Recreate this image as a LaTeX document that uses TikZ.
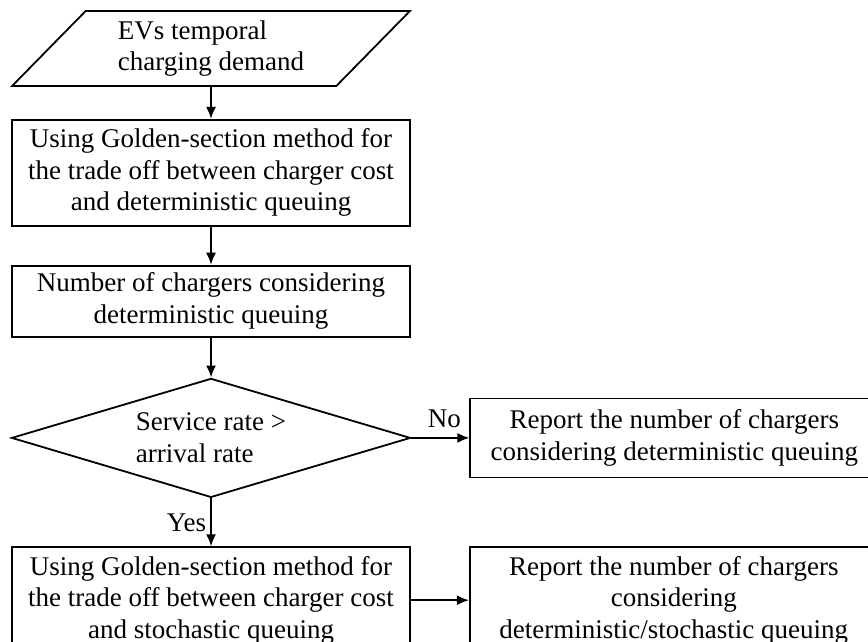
\documentclass[tikz,border=0pt]{standalone}
\usepackage{fontspec}
\setmainfont{Liberation Serif}
\usetikzlibrary{positioning,arrows.meta,shapes.geometric}
\tikzstyle{io} = [draw, trapezium, trapezium left angle=48, trapezium right angle=132,
    trapezium stretches=true, minimum width=398pt, minimum height=75pt, align=left,
    text depth=6pt]
\tikzstyle{block} = [draw, rectangle, minimum width=398pt, align=center, inner sep=0pt]
\tikzstyle{report} = [draw, rectangle, minimum width=408pt, align=center, inner sep=0pt]
\tikzstyle{decision} = [draw, diamond, minimum width=399pt, minimum height=119pt,
    aspect=3.3, inner sep=0pt, align=left]

\begin{document}
\begin{tikzpicture}[auto, >={Latex[length=12pt,width=10pt]}, line width=1.8pt,
    font=\fontsize{27pt}{31.5pt}\selectfont]
    \useasboundingbox (0,0) rectangle (868pt,-641pt);

    \node (demand) [io] at (211pt,-48.5pt) {EVs temporal\\charging demand};
    \node (golddet) [block, minimum height=106pt, below=32pt of demand]
        {Using Golden-section method for\\the trade off between charger cost\\and deterministic queuing};
    \node (ndet) [block, minimum height=71pt, below=38pt of golddet]
        {Number of chargers considering\\deterministic queuing};
    \node (rate) [decision, below=40pt of ndet] {Service rate >\\arrival rate};
    \node (repdet) [report, minimum height=79pt, right=58pt of rate]
        {Report the number of chargers\\considering deterministic queuing};
    \node (goldsto) [block, minimum height=106pt, below=48pt of rate]
        {Using Golden-section method for\\the trade off between charger cost\\and stochastic queuing};
    \node (repsto) [report, minimum height=106pt, right=58pt of goldsto]
        {Report the number of chargers\\considering\\deterministic/stochastic queuing};

    \draw[->] (demand) -- (golddet);
    \draw[->] (golddet) -- (ndet);
    \draw[->] (ndet) -- (rate);
    \draw[->] (rate) -- node[pos=0.57, above=6pt] {No} (repdet);
    \draw[->] (rate) -- node[left, inner sep=4pt] {Yes} (goldsto);
    \draw[->] (goldsto) -- (repsto);
\end{tikzpicture}
\end{document}
